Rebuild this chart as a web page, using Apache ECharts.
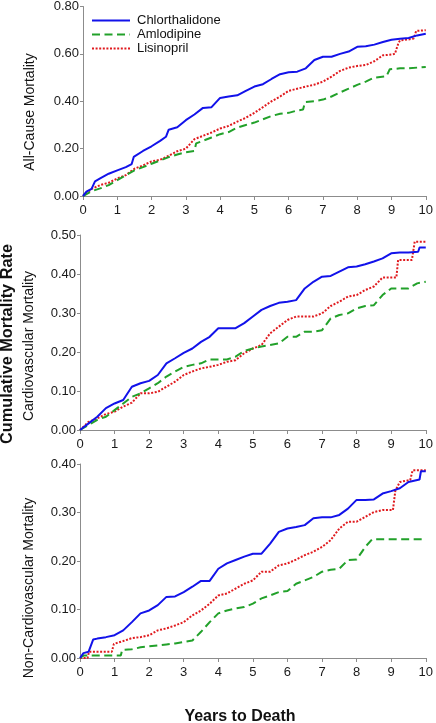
<!DOCTYPE html>
<html>
<head>
<meta charset="utf-8">
<script src="https://cdn.jsdelivr.net/npm/echarts@6/dist/echarts.min.js"></script>
<style>html,body{margin:0;padding:0;background:#fff;}#c{width:436px;height:723px;}</style>
</head>
<body>
<div id="c"></div>
<script>
// Years (sample points)
const years = [0,0.25,0.5,0.75,1,1.25,1.5,1.75,2,2.25,2.5,2.75,3,3.25,3.5,3.75,4,4.25,4.5,4.75,5,5.25,5.5,5.75,6,6.25,6.5,6.75,7,7.25,7.5,7.75,8,8.25,8.5,8.75,9,9.25,9.5,9.75,10];
const seriesNames = ['Chlorthalidone','Amlodipine','Lisinopril'];

// All-cause mortality
const allChlorT = [0,0.1,0.25,0.35,0.5,0.75,1,1.25,1.42,1.48,1.75,2,2.25,2.42,2.5,2.75,3,3.25,3.5,3.75,4,4.25,4.5,4.75,5,5.25,5.5,5.75,6,6.25,6.5,6.75,7,7.25,7.5,7.75,8,8.25,8.5,8.75,9,9.25,9.5,9.75,10];
const allChlor  = [0,0.018,0.03,0.062,0.074,0.094,0.108,0.122,0.135,0.165,0.19,0.21,0.233,0.25,0.28,0.29,0.32,0.344,0.372,0.375,0.414,0.42,0.425,0.444,0.462,0.472,0.494,0.514,0.522,0.525,0.539,0.574,0.588,0.588,0.60,0.61,0.63,0.632,0.639,0.65,0.66,0.664,0.667,0.678,0.685];
const allAmloT  = [0,0.25,0.5,0.75,1,1.25,1.5,1.75,2,2.25,2.5,2.75,3,3.25,3.3,3.5,3.75,4,4.25,4.5,4.75,5,5.25,5.5,5.75,6,6.25,6.42,6.48,6.75,7,7.25,7.5,7.75,8,8.25,8.5,8.85,8.95,9.25,9.5,9.75,10];
const allAmlo   = [0,0.02,0.032,0.046,0.067,0.088,0.108,0.122,0.136,0.15,0.164,0.175,0.185,0.19,0.222,0.233,0.247,0.261,0.27,0.289,0.30,0.31,0.324,0.338,0.347,0.351,0.361,0.365,0.397,0.40,0.407,0.42,0.437,0.453,0.469,0.483,0.50,0.505,0.535,0.539,0.539,0.542,0.545];
const allLisiT  = [0,0.25,0.5,0.75,1,1.25,1.5,1.75,2,2.25,2.5,2.75,3,3.25,3.5,3.75,4,4.25,4.5,4.75,5,5.25,5.5,5.75,6,6.25,6.5,6.75,7,7.25,7.5,7.75,8,8.25,8.5,8.75,9,9.1,9.2,9.25,9.5,9.65,9.72,10];
const allLisi   = [0,0.03,0.046,0.056,0.074,0.088,0.115,0.129,0.146,0.153,0.17,0.189,0.20,0.24,0.254,0.268,0.285,0.296,0.314,0.33,0.351,0.375,0.40,0.42,0.444,0.453,0.462,0.47,0.483,0.504,0.528,0.542,0.549,0.553,0.569,0.594,0.597,0.60,0.645,0.657,0.661,0.665,0.697,0.70];

// Cardiovascular mortality
const cvChlorT = [0,0.25,0.5,0.75,1,1.25,1.5,1.75,2,2.25,2.5,2.75,3,3.25,3.5,3.75,4,4.25,4.5,4.75,5,5.25,5.5,5.75,6,6.25,6.5,6.75,7,7.25,7.5,7.75,8,8.25,8.5,8.75,9,9.25,9.5,9.78,9.82,10];
const cvChlor  = [0,0.017,0.034,0.056,0.068,0.077,0.111,0.12,0.126,0.141,0.171,0.184,0.198,0.209,0.226,0.239,0.261,0.261,0.261,0.274,0.291,0.308,0.318,0.326,0.329,0.333,0.363,0.38,0.393,0.395,0.406,0.417,0.419,0.425,0.432,0.44,0.453,0.455,0.455,0.457,0.468,0.468];
const cvAmlo   = [0,0.013,0.026,0.034,0.051,0.068,0.085,0.094,0.107,0.12,0.137,0.15,0.162,0.167,0.171,0.181,0.181,0.181,0.188,0.203,0.209,0.214,0.218,0.222,0.239,0.239,0.252,0.252,0.256,0.286,0.295,0.299,0.312,0.318,0.32,0.346,0.363,0.363,0.363,0.376,0.38];
const cvLisiT  = [0,0.25,0.5,0.75,1,1.25,1.5,1.75,2,2.25,2.5,2.75,3,3.25,3.5,3.75,4,4.25,4.5,4.75,5,5.25,5.5,5.75,6,6.25,6.5,6.75,7,7.25,7.5,7.75,8,8.25,8.5,8.75,9,9.15,9.2,9.5,9.6,9.68,10];
const cvLisi   = [0,0.021,0.03,0.041,0.047,0.06,0.07,0.094,0.094,0.098,0.111,0.124,0.141,0.15,0.158,0.162,0.167,0.175,0.179,0.197,0.209,0.218,0.248,0.265,0.282,0.291,0.291,0.291,0.299,0.318,0.329,0.342,0.346,0.359,0.368,0.391,0.391,0.391,0.436,0.436,0.436,0.483,0.483];

// Non-cardiovascular mortality
const ncvChlorT = [0,0.1,0.25,0.3,0.38,0.5,0.75,1,1.25,1.5,1.75,2,2.25,2.5,2.75,3,3.25,3.5,3.75,4,4.25,4.5,4.75,5,5.25,5.5,5.75,6,6.25,6.5,6.75,7,7.25,7.5,7.75,8,8.25,8.5,8.75,9,9.25,9.5,9.82,9.86,10];
const ncvChlor  = [0,0.01,0.013,0.015,0.038,0.04,0.043,0.047,0.057,0.074,0.092,0.098,0.109,0.126,0.127,0.136,0.147,0.159,0.159,0.184,0.195,0.202,0.209,0.215,0.215,0.236,0.26,0.267,0.27,0.274,0.288,0.29,0.29,0.295,0.308,0.326,0.326,0.327,0.339,0.344,0.35,0.363,0.368,0.385,0.385];
const ncvAmloT  = [0,0.1,1.18,1.22,1.5,1.75,2,2.25,2.5,2.75,3,3.25,3.5,3.75,4,4.25,4.5,4.75,5,5.25,5.5,5.75,6,6.25,6.5,6.75,7,7.25,7.5,7.75,8,8.25,8.45,10];
const ncvAmlo   = [0,0.005,0.005,0.017,0.018,0.022,0.024,0.026,0.028,0.03,0.033,0.036,0.054,0.074,0.092,0.098,0.102,0.105,0.112,0.123,0.129,0.136,0.138,0.153,0.16,0.167,0.178,0.182,0.184,0.202,0.203,0.229,0.245,0.245];
const ncvLisiT  = [0,0.22,0.26,0.92,0.98,1.25,1.5,1.75,2,2.25,2.5,2.75,3,3.25,3.5,3.75,4,4.25,4.5,4.75,5,5.25,5.5,5.75,6,6.25,6.5,6.75,7,7.25,7.5,7.75,8,8.25,8.5,8.75,9.05,9.12,9.25,9.55,9.62,10];
const ncvLisi   = [0,0,0.013,0.013,0.029,0.035,0.041,0.043,0.047,0.057,0.061,0.067,0.074,0.088,0.098,0.112,0.129,0.133,0.143,0.153,0.16,0.178,0.178,0.191,0.195,0.203,0.212,0.219,0.229,0.243,0.267,0.281,0.281,0.291,0.301,0.305,0.305,0.345,0.363,0.367,0.387,0.387];

const panelTitles = ['All-Cause Mortality','Cardiovascular Mortality','Non-Cardiovascular Mortality'];
const yMax = [0.8, 0.5, 0.4];
const yStep = [0.2, 0.1, 0.1];

const panels = [
  [[allChlorT,allChlor],[allAmloT,allAmlo],[allLisiT,allLisi]],
  [[cvChlorT,cvChlor],[years,cvAmlo],[cvLisiT,cvLisi]],
  [[ncvChlorT,ncvChlor],[ncvAmloT,ncvAmlo],[ncvLisiT,ncvLisi]]
];
const grids = [
  {left:83, right:10, top:4, height:192},
  {left:80, right:9, top:235, height:195},
  {left:80, right:8, top:464, height:194}
];
const styles = [
  {color:'#1212ea', width:2, type:'solid'},
  {color:'#22a12a', width:2, type:[8,4.5]},
  {color:'#e01a1e', width:2, type:[2,1.6]}
];

const axisColor = '#8c8c8c';
const font = 'Liberation Sans, Arial, sans-serif';

const xAxes = grids.map((g,i)=>({
  type:'value', gridIndex:i, min:0, max:10, interval:1,
  axisLine:{show:true, lineStyle:{color:axisColor, width:1}},
  axisTick:{show:true, length:4, lineStyle:{color:axisColor}},
  axisLabel:{color:'#1a1a1a', fontSize:13, fontFamily:font, margin:8},
  splitLine:{show:false}
}));
const yAxes = grids.map((g,i)=>({
  type:'value', gridIndex:i, min:0, max:yMax[i], interval:yStep[i],
  axisLine:{show:true, lineStyle:{color:axisColor, width:1}},
  axisTick:{show:true, length:3, lineStyle:{color:axisColor}},
  axisLabel:{color:'#1a1a1a', fontSize:13, fontFamily:font, margin:4, formatter:v=>v.toFixed(2)},
  splitLine:{show:false}
}));

const series = [];
panels.forEach((p,i)=>{
  p.forEach((pair,j)=>{
    const T = pair[0], V = pair[1];
    series.push({
      name:seriesNames[j], type:'line', xAxisIndex:i, yAxisIndex:i,
      symbol:'none', showSymbol:false, animation:false,
      lineStyle:styles[j], itemStyle:{color:styles[j].color},
      z: 3-j,
      data: T.map((t,k)=>[t, V[k]])
    });
  });
});

function vText(text, x, y, size, weight){
  return {type:'text', x:x, y:y, rotation:Math.PI/2,
    style:{text:text, fill:'#111', font:(weight||'normal')+' '+size+'px '+font, textAlign:'center', textVerticalAlign:'middle'}};
}

const option = {
  backgroundColor:'#fff',
  animation:false,
  grid:grids,
  xAxis:xAxes,
  yAxis:yAxes,
  legend:{
    data:seriesNames, orient:'vertical', left:86, top:9,
    itemWidth:38, itemHeight:10, itemGap:1,
    itemStyle:{opacity:0},
    textStyle:{fontSize:13, fontFamily:font, color:'#111', padding:[0,0,0,2]}
  },
  graphic:[
    vText(panelTitles[0], 30, 112, 14),
    vText(panelTitles[1], 29, 346, 14),
    vText(panelTitles[2], 29, 588, 14),
    vText('Cumulative Mortality Rate', 8, 344, 16.3, 'bold'),
    {type:'text', x:240, y:717, style:{text:'Years to Death', fill:'#111', font:'bold 16px '+font, textAlign:'center', textVerticalAlign:'middle'}}
  ],
  series:series
};
echarts.init(document.getElementById('c'), null, {renderer:'canvas'}).setOption(option);
</script>
</body>
</html>
